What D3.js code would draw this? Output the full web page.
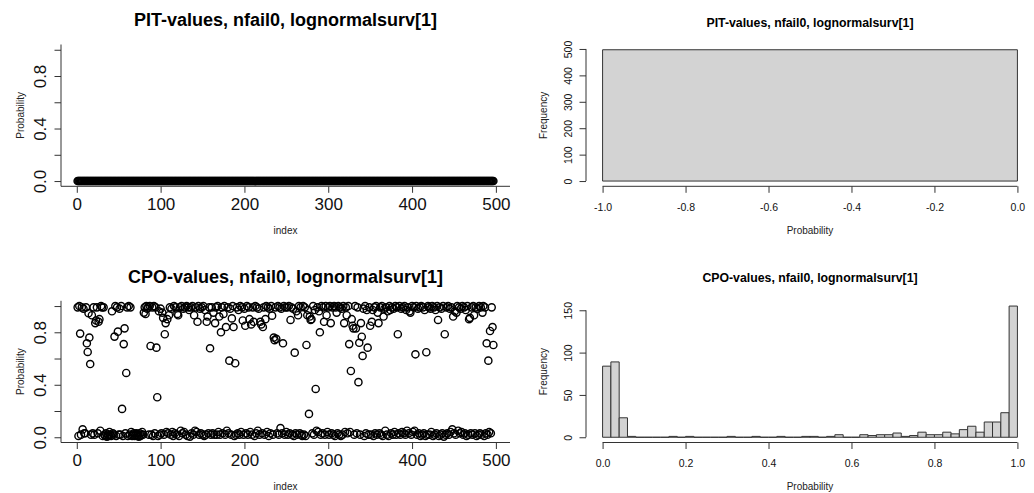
<!DOCTYPE html>
<html>
<head>
<meta charset="utf-8">
<script src="https://cdn.jsdelivr.net/npm/d3@7"></script>
<style>
body { margin: 0; background: #fff; }
svg { display: block; font-family: "Liberation Sans", Arial, sans-serif; }
</style>
</head>
<body>
<svg id="chart" width="1034" height="493"></svg>
<script>
// Data
const pit_title = 'PIT-values, nfail0, lognormalsurv[1]';
const cpo_title = 'CPO-values, nfail0, lognormalsurv[1]';

// PIT values, one per index (all read as 0)
const pit_values = [
    0,0,0,0,0,0,0,0,0,0, 0,0,0,0,0,0,0,0,0,0, 0,0,0,0,0,0,0,0,0,0, 0,0,0,0,0,0,0,0,0,0, 0,0,0,0,0,0,0,0,0,0,
    0,0,0,0,0,0,0,0,0,0, 0,0,0,0,0,0,0,0,0,0, 0,0,0,0,0,0,0,0,0,0, 0,0,0,0,0,0,0,0,0,0, 0,0,0,0,0,0,0,0,0,0,
    0,0,0,0,0,0,0,0,0,0, 0,0,0,0,0,0,0,0,0,0, 0,0,0,0,0,0,0,0,0,0, 0,0,0,0,0,0,0,0,0,0, 0,0,0,0,0,0,0,0,0,0,
    0,0,0,0,0,0,0,0,0,0, 0,0,0,0,0,0,0,0,0,0, 0,0,0,0,0,0,0,0,0,0, 0,0,0,0,0,0,0,0,0,0, 0,0,0,0,0,0,0,0,0,0,
    0,0,0,0,0,0,0,0,0,0, 0,0,0,0,0,0,0,0,0,0, 0,0,0,0,0,0,0,0,0,0, 0,0,0,0,0,0,0,0,0,0, 0,0,0,0,0,0,0,0,0,0,
    0,0,0,0,0,0,0,0,0,0, 0,0,0,0,0,0,0,0,0,0, 0,0,0,0,0,0,0,0,0,0, 0,0,0,0,0,0,0,0,0,0, 0,0,0,0,0,0,0,0,0,0,
    0,0,0,0,0,0,0,0,0,0, 0,0,0,0,0,0,0,0,0,0, 0,0,0,0,0,0,0,0,0,0, 0,0,0,0,0,0,0,0,0,0, 0,0,0,0,0,0,0,0,0,0,
    0,0,0,0,0,0,0,0,0,0, 0,0,0,0,0,0,0,0,0,0, 0,0,0,0,0,0,0,0,0,0, 0,0,0,0,0,0,0,0,0,0, 0,0,0,0,0,0,0,0,0,0,
    0,0,0,0,0,0,0,0,0,0, 0,0,0,0,0,0,0,0,0,0, 0,0,0,0,0,0,0,0,0,0, 0,0,0,0,0,0,0,0,0,0, 0,0,0,0,0,0,0,0,0,0,
    0,0,0,0,0,0,0,0,0,0, 0,0,0,0,0,0,0,0,0,0, 0,0,0,0,0,0,0,0,0,0, 0,0,0,0,0,0,0,0,0,0, 0,0,0,0,0,0,0
];

// CPO values, one per index 1..497
const cpo_values = [
    0.99, 0.01, 1.0, 0.79, 0.02, 0.99, 0.06, 0.98, 0.03, 0.03,
    0.99, 0.716, 0.65, 0.945, 0.76, 0.558, 0.02, 0.93, 0.03, 0.99,
    0.02, 0.87, 0.89, 0.99, 0.03, 0.88, 0.9, 0.05, 1.0, 0.99,
    0.01, 0.99, 0.02, 0.01, 0.03, 0.005, 0.02, 0.01, 0.04, 0.02,
    0.01, 0.96, 0.03, 0.02, 0.767, 1.0, 0.01, 0.99, 0.805, 0.02,
    0.98, 0.02, 1.0, 0.216, 0.01, 0.71, 0.83, 0.03, 0.49, 0.99,
    0.01, 1.0, 0.02, 0.99, 0.04, 0.01, 0.02, 0.03, 0.01, 0.02,
    0.03, 0.01, 0.02, 0.005, 0.03, 0.01, 0.02, 0.04, 0.02, 0.95,
    0.99, 0.94, 1.0, 0.98, 0.99, 0.02, 1.0, 0.696, 0.02, 0.99,
    0.01, 1.0, 0.03, 0.99, 0.683, 0.305, 0.01, 0.96, 0.02, 0.98,
    0.03, 0.95, 0.91, 0.02, 0.785, 0.87, 0.04, 0.9, 0.03, 0.93,
    0.99, 0.02, 0.98, 0.04, 0.01, 1.0, 0.03, 0.99, 0.02, 0.94,
    0.93, 0.01, 0.99, 0.05, 1.0, 0.03, 0.98, 0.04, 0.99, 0.02,
    1.0, 0.01, 0.99, 0.97, 0.005, 0.99, 0.03, 1.0, 0.02, 0.93,
    0.05, 0.99, 0.04, 0.88, 1.0, 0.02, 0.98, 0.03, 0.99, 0.02,
    1.0, 0.01, 0.97, 0.02, 0.88, 0.92, 0.03, 0.99, 0.678, 0.02,
    0.99, 0.03, 0.95, 0.02, 0.87, 0.99, 0.02, 1.0, 0.04, 0.92,
    0.02, 0.80, 0.99, 0.03, 0.94, 1.0, 0.02, 0.84, 0.05, 0.99,
    0.03, 0.584, 0.98, 0.02, 0.906, 1.0, 0.84, 0.01, 0.564, 0.02,
    0.99, 0.03, 0.97, 0.02, 1.0, 0.04, 0.99, 0.89, 0.02, 0.98,
    0.85, 0.03, 1.0, 0.02, 0.99, 0.9, 0.04, 0.86, 0.02, 0.99,
    0.88, 0.01, 1.0, 0.03, 0.99, 0.05, 0.98, 0.02, 0.88, 0.86,
    0.03, 0.84, 0.99, 0.02, 0.9, 1.0, 0.04, 0.99, 0.01, 0.98,
    0.03, 1.0, 0.927, 0.02, 0.76, 0.74, 0.99, 0.75, 0.03, 1.0,
    0.02, 0.99, 0.07, 0.98, 0.03, 0.716, 1.0, 0.02, 0.99, 0.04,
    0.99, 0.02, 1.0, 0.03, 0.894, 0.99, 0.02, 0.98, 0.01, 0.645,
    0.03, 0.96, 0.02, 0.93, 1.0, 0.03, 0.99, 0.02, 0.01, 1.0,
    0.02, 0.99, 0.01, 0.703, 0.93, 0.97, 0.178, 0.92, 0.894, 0.9,
    0.03, 1.0, 0.02, 0.97, 0.368, 0.05, 0.99, 0.04, 0.96, 0.80,
    0.02, 1.0, 0.03, 0.99, 0.88, 0.02, 1.0, 0.93, 0.04, 0.99,
    0.02, 1.0, 0.87, 0.03, 0.99, 0.02, 1.0, 0.01, 0.99, 0.95,
    0.03, 1.0, 0.02, 0.99, 0.01, 0.98, 0.02, 1.0, 0.87, 0.04,
    0.99, 0.93, 0.03, 1.0, 0.71, 0.04, 0.505, 0.9, 0.85, 0.83,
    0.02, 1.0, 0.83, 0.03, 0.99, 0.42, 0.72, 0.02, 0.87, 0.766,
    0.62, 0.98, 0.01, 1.0, 0.03, 0.97, 0.683, 0.02, 0.99, 0.85,
    0.02, 0.88, 0.97, 0.01, 0.99, 0.03, 1.0, 0.02, 0.95, 0.87,
    0.03, 0.99, 0.02, 1.0, 0.01, 0.92, 0.98, 0.05, 0.99, 0.02,
    0.96, 0.01, 1.0, 0.97, 0.03, 0.99, 0.02, 0.98, 0.04, 1.0,
    0.02, 0.99, 0.785, 0.03, 1.0, 0.02, 0.98, 0.04, 0.99, 0.03,
    1.0, 0.02, 0.97, 0.05, 0.99, 0.03, 0.96, 0.95, 0.02, 1.0,
    0.04, 0.99, 0.05, 0.632, 1.0, 0.02, 0.98, 0.03, 0.99, 0.01,
    1.0, 0.02, 0.99, 0.03, 0.97, 0.01, 0.648, 0.02, 1.0, 0.99,
    0.02, 0.98, 0.04, 1.0, 0.01, 0.99, 0.02, 0.97, 0.03, 1.0,
    0.894, 0.01, 0.99, 0.02, 0.98, 0.03, 1.0, 0.005, 0.785, 0.02,
    0.99, 0.03, 1.0, 0.02, 0.98, 0.04, 0.99, 0.06, 0.92, 0.03,
    0.96, 0.02, 0.95, 1.0, 0.05, 0.99, 0.03, 0.98, 0.04, 1.0,
    0.02, 0.99, 0.03, 0.97, 0.01, 1.0, 0.02, 0.9, 0.91, 0.03,
    0.99, 0.02, 1.0, 0.93, 0.03, 0.99, 0.01, 0.98, 0.02, 1.0,
    0.03, 0.99, 0.02, 0.95, 1.0, 0.01, 0.99, 0.03, 0.716, 0.02,
    0.584, 0.04, 0.81, 0.03, 0.99, 0.84, 0.703
];

// Histograms: bin edges and counts
const pit_breaks = [-1, 0];
const pit_counts = [497];

const cpo_breaks = [
    0, 0.02, 0.04, 0.06, 0.08, 0.1, 0.12, 0.14, 0.16, 0.18,
    0.2, 0.22, 0.24, 0.26, 0.28, 0.3, 0.32, 0.34, 0.36, 0.38,
    0.4, 0.42, 0.44, 0.46, 0.48, 0.5, 0.52, 0.54, 0.56, 0.58,
    0.6, 0.62, 0.64, 0.66, 0.68, 0.7, 0.72, 0.74, 0.76, 0.78,
    0.8, 0.82, 0.84, 0.86, 0.88, 0.9, 0.92, 0.94, 0.96, 0.98, 1
];
const cpo_counts = [
    84, 89, 23, 1, 0, 0, 0, 0, 1, 0,
    1, 0, 0, 0, 0, 1, 0, 0, 1, 0,
    0, 1, 0, 0, 1, 1, 0, 1, 3, 0,
    0, 3, 2, 3, 3, 5, 1, 2, 6, 3,
    3, 6, 4, 9, 13, 6, 18, 18, 29, 155
];

// Ticks
const index_ticks = [0, 100, 200, 300, 400, 500];
const prob_ticks = [0, 0.2, 0.4, 0.6, 0.8, 1];
const prob_tick_labels = ['0.0', '', '0.4', '', '0.8', ''];
const pit_x_ticks = [-1, -0.8, -0.6, -0.4, -0.2, 0];
const pit_x_labels = ['-1.0', '-0.8', '-0.6', '-0.4', '-0.2', '0.0'];
const cpo_x_ticks = [0, 0.2, 0.4, 0.6, 0.8, 1];
const cpo_x_labels = ['0.0', '0.2', '0.4', '0.6', '0.8', '1.0'];
const pit_freq_ticks = [0, 100, 200, 300, 400, 500];
const cpo_freq_ticks = [0, 50, 100, 150];


// Layout
const scatter_box = {left: 61, right: 510};
const hist_box = {left: 586, right: 1034};
const rows = [
    {top: 44.5, bottom: 186.3, title_y: 20, hist_title_y: 23},
    {top: 300.8, bottom: 442.5, title_y: 277, hist_title_y: 278}
];

const svg = d3.select('#chart');

// R pads the data range by 4% on each side
function expand(lo, hi){
    const pad = (hi - lo) * 0.04;
    return [lo - pad, hi + pad];
}

function add_text(x, y, text, size, rotate){
    let t = svg.append('text')
        .attr('text-anchor', 'middle')
        .attr('dy', '0.35em')
        .attr('font-size', size)
        .attr('fill', '#222')
        .text(text);
    if (rotate) t.attr('transform', `translate(${x},${y}) rotate(-90)`);
    else t.attr('x', x).attr('y', y);
    return t;
}

function style_axis(g, size){
    g.select('.domain').remove();
    g.selectAll('.tick line').attr('stroke', '#333');
    g.selectAll('.tick text')
        .attr('font-size', size)
        .attr('font-family', '"Liberation Sans", Arial, sans-serif')
        .attr('fill', '#111');
}

function draw_axes(x, y, row, box, opts){
    const x_axis = svg.append('g')
        .attr('transform', `translate(0,${row.bottom})`)
        .call(d3.axisBottom(x).tickValues(opts.x_ticks).tickSize(6.5).tickFormat((d, i) => opts.x_labels[i]));
    style_axis(x_axis, opts.tick_size);
    x_axis.selectAll('.tick text').attr('y', opts.x_label_off).attr('dy', '0.35em');

    const y_axis = svg.append('g')
        .attr('transform', `translate(${box.left},0)`)
        .call(d3.axisLeft(y).tickValues(opts.y_ticks).tickSize(6.5).tickFormat((d, i) => opts.y_labels[i]));
    style_axis(y_axis, opts.tick_size);
    y_axis.selectAll('.tick text')
        .attr('x', 0)
        .attr('y', -opts.y_label_off)
        .attr('dy', '0.35em')
        .attr('text-anchor', 'middle')
        .attr('transform', 'rotate(-90)');
    return [x_axis, y_axis];
}

function draw_scatter(row, title, values){
    const x = d3.scaleLinear()
        .domain(expand(1, values.length))
        .range([scatter_box.left, scatter_box.right]);
    const y = d3.scaleLinear()
        .domain(expand(0, 1))
        .range([row.bottom, row.top]);

    svg.append('g').selectAll('circle')
        .data(values)
        .join('circle')
        .attr('cx', (d, i) => x(i + 1))
        .attr('cy', d => y(d))
        .attr('r', 3.6)
        .attr('fill', 'none')
        .attr('stroke', '#000')
        .attr('stroke-width', 1.4);

    // L-shaped box (bty = "l")
    svg.append('path')
        .attr('d', `M${scatter_box.left},${row.top}V${row.bottom}H${scatter_box.right}`)
        .attr('fill', 'none')
        .attr('stroke', '#333');

    draw_axes(x, y, row, scatter_box, {
        x_ticks: index_ticks, x_labels: index_ticks.map(String),
        y_ticks: prob_ticks, y_labels: prob_tick_labels,
        tick_size: 17, x_label_off: 18, y_label_off: 21
    });

    const cx = (scatter_box.left + scatter_box.right) / 2;
    add_text(cx, row.title_y, title, 18).attr('font-weight', 'bold').attr('fill', '#000');
    add_text(cx, row.bottom + 44, 'index', 10);
    add_text(20, (row.top + row.bottom) / 2, 'Probability', 10, true);
}

function draw_hist(row, title, breaks, counts, x_ticks, x_labels, y_ticks){
    const x = d3.scaleLinear()
        .domain(expand(breaks[0], breaks[breaks.length - 1]))
        .range([hist_box.left, hist_box.right]);
    const y = d3.scaleLinear()
        .domain(expand(0, d3.max(counts)))
        .range([row.bottom, row.top]);

    const bins = counts.map((c, i) => ({x0: breaks[i], x1: breaks[i + 1], count: c}));

    svg.append('g').selectAll('path')
        .data(bins)
        .join('path')
        .attr('d', d => `M${x(d.x0)},${y(0)}H${x(d.x1)}V${y(d.count)}H${x(d.x0)}Z`)
        .attr('fill', '#d3d3d3')
        .attr('stroke', '#333')
        .attr('stroke-width', 1);

    const [x_axis, y_axis] = draw_axes(x, y, row, hist_box, {
        x_ticks: x_ticks, x_labels: x_labels,
        y_ticks: y_ticks, y_labels: y_ticks.map(String),
        tick_size: 10.5, x_label_off: 21, y_label_off: 18
    });

    // axis lines only run from first to last tick
    svg.append('line')
        .attr('x1', x(x_ticks[0])).attr('x2', x(x_ticks[x_ticks.length - 1]))
        .attr('y1', row.bottom).attr('y2', row.bottom)
        .attr('stroke', '#333');
    svg.append('line')
        .attr('x1', hist_box.left).attr('x2', hist_box.left)
        .attr('y1', y(y_ticks[0])).attr('y2', y(y_ticks[y_ticks.length - 1]))
        .attr('stroke', '#333');

    const cx = (hist_box.left + hist_box.right) / 2;
    add_text(cx, row.hist_title_y, title, 12.3).attr('font-weight', 'bold').attr('fill', '#000');
    add_text(cx, row.bottom + 44, 'Probability', 10);
    add_text(543.5, (row.top + row.bottom) / 2, 'Frequency', 10, true);
}

draw_scatter(rows[0], pit_title, pit_values);
draw_hist(rows[0], pit_title, pit_breaks, pit_counts, pit_x_ticks, pit_x_labels, pit_freq_ticks);
draw_scatter(rows[1], cpo_title, cpo_values);
draw_hist(rows[1], cpo_title, cpo_breaks, cpo_counts, cpo_x_ticks, cpo_x_labels, cpo_freq_ticks);
</script>
</body>
</html>
